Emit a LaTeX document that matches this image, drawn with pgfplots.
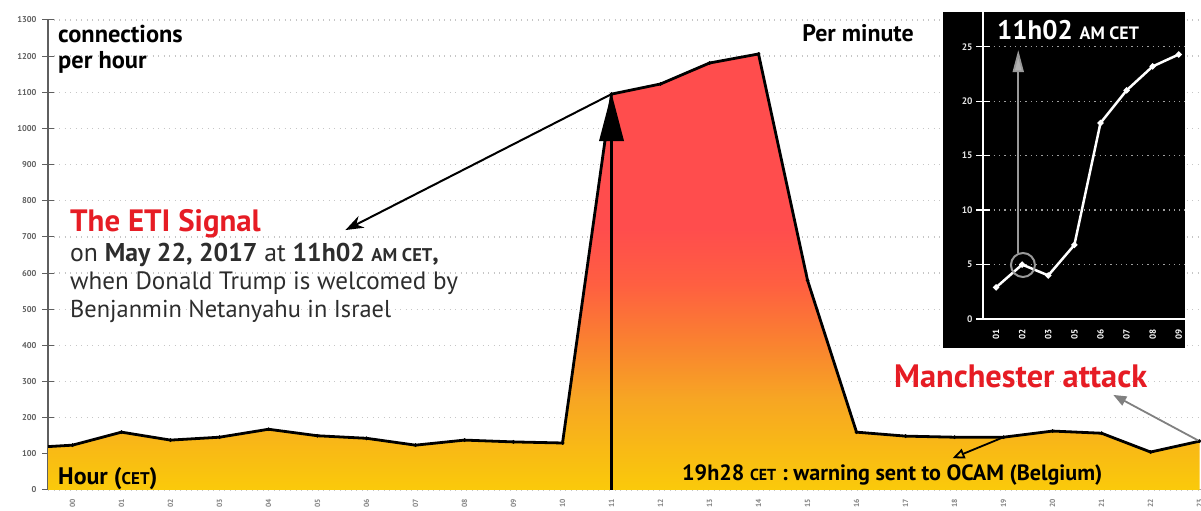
\documentclass[border=0pt]{standalone}
\usepackage{pgfplots}
\pgfplotsset{compat=1.18}
\usepackage{pgfplotstable}
\usepackage{fontspec}
\setmainfont{PT Sans}
\usetikzlibrary{arrows.meta}

\definecolor{cy}{RGB}{250,202,10}
\definecolor{co1}{RGB}{247,166,35}
\definecolor{co2}{RGB}{250,125,50}
\definecolor{co3}{RGB}{255,95,65}
\definecolor{cr}{RGB}{255,77,77}
\definecolor{etired}{RGB}{230,28,36}
\definecolor{txtgray}{RGB}{45,45,45}
\definecolor{tickgray}{RGB}{95,95,95}

\pgfdeclareverticalshading{eti}{100bp}{color(0bp)=(cy); color(25bp)=(cy); color(35.4bp)=(co1); color(42.8bp)=(co2); color(48.6bp)=(co3); color(54.9bp)=(cr); color(100bp)=(cr)}

\pgfplotstableread{
x y
-0.5 120
0 124
1 160
2 138
3 146
4 168
5 150
6 143
7 124
8 138
9 133
10 130
11 1095
12 1123
13 1181
14 1206
15 580
16 160
17 149
18 146
19 146
20 163
21 157
22 105
23 135
}\maindata

\pgfplotstableread{
x y
0 2.9
1 5.0
2 4.0
3 6.8
4 18.0
5 21.0
6 23.2
7 24.3
}\minutedata

\begin{document}
\begin{tikzpicture}[x=1bp,y=1bp]
\useasboundingbox (0,0) rectangle (1201,511);
\begin{axis}[
  at={(48bp,21bp)}, anchor=south west,
  scale only axis, width=1153bp, height=470bp,
  xmin=-0.5, xmax=23.03, ymin=0, ymax=1300,
  axis lines=left,
  x axis line style={-, draw=gray!70, line width=1bp},
  y axis line style={-, draw=tickgray, line width=1.2bp},
  xtick={0,...,23},
  xticklabels={00,01,02,03,04,05,06,07,08,09,10,11,12,13,14,15,16,17,18,19,20,21,22,23},
  xtick style={draw=none},
  xticklabel style={rotate=90, anchor=east, font=\fontsize{7.5}{7.5}\selectfont\bfseries, text=gray},
  ytick={0,100,...,1300},
  yticklabels={0,100,200,300,400,500,600,700,800,900,1000,1100,1200,1300},
  yticklabel style={font=\fontsize{8.5}{8.5}\selectfont\bfseries, text=tickgray, xshift=-2bp},
  tick align=center, major tick length=12bp,
  ytick style={draw=tickgray, line width=1bp},
  ymajorgrids,
  grid style={draw=gray!45, line width=1.3bp, dash pattern=on 1.3bp off 4.2bp},
]
\addplot[draw=none, shading=eti] table[x=x,y=y] {\maindata} \closedcycle;
\addplot[black, line width=2.8bp] table[x=x,y=y] {\maindata};
\addplot[only marks, mark=*, mark size=1.7bp, black, skip coords between index={0}{1}] table[x=x,y=y] {\maindata};
% annotation arrows
\draw[black, line width=3.5bp, -{Triangle[length=48bp,width=24bp]}] (axis cs:11,0) -- (axis cs:11,1098);
\draw[black, line width=2bp, -{Stealth[length=18bp,width=13bp]}] (axis cs:11,1095) -- (axis cs:5.57,719);
\draw[black, line width=1.8bp, -{Triangle[open,length=12bp,width=10bp]}] (axis cs:19,146) -- (axis cs:17.96,88);
\draw[gray, line width=1.8bp, -{Triangle[length=13bp,width=10bp]}] (axis cs:23,135) -- (axis cs:21.24,263);
\end{axis}

% inset
\fill[black] (943,163) rectangle (1185,499);
\begin{axis}[
  at={(983bp,192bp)}, anchor=south west,
  scale only axis, width=202bp, height=307bp,
  xmin=-0.5, xmax=7.24, ymin=0, ymax=28.2,
  axis lines=left,
  axis line style={-, draw=white, line width=1.5bp},
  xtick={0,...,7},
  xticklabels={01,02,03,05,06,07,08,09},
  xtick style={draw=none},
  xticklabel style={rotate=90, anchor=east, font=\fontsize{9}{9}\selectfont\bfseries, text=white},
  ytick={0,5,...,25},
  yticklabels={0,5,10,15,20,25},
  yticklabel style={font=\fontsize{9.5}{9.5}\selectfont\bfseries, text=white!90!black},
  tick align=center, major tick length=14bp,
  ytick style={draw=white, line width=1.3bp},
  ymajorgrids,
  grid style={draw=gray!75, line width=1.3bp, dash pattern=on 1.3bp off 4bp},
]
\addplot[white, line width=2.5bp, mark=*, mark size=1.6bp] table[x=x,y=y] {\minutedata};
\draw[gray!80, line width=2bp] (axis cs:1.03,4.96) circle[radius=12bp];
\draw[gray!80, line width=1.8bp, -{Triangle[length=22bp,width=11bp,fill=gray!60]}] (axis cs:0.85,6.1) -- (axis cs:0.85,24.7);
\end{axis}

% texts
\node[anchor=base west, inner sep=0, font=\fontsize{24.5}{28}\selectfont\bfseries] at (58,468) {connections};
\node[anchor=base west, inner sep=0, font=\fontsize{24.5}{28}\selectfont\bfseries] at (58,442) {per hour};
\node[anchor=base east, inner sep=0, font=\fontsize{24}{28}\selectfont\bfseries] at (914,469) {Per minute};
\node[anchor=base west, inner sep=0, font=\fontsize{27}{30}\selectfont\bfseries, text=white] at (997,471) {11h02 {\fontsize{18}{18}\selectfont AM CET}};
\node[anchor=base west, inner sep=0, font=\fontsize{31}{32}\selectfont\bfseries, text=etired] at (70,279) {The ETI Signal};
\node[anchor=base west, inner sep=0, font=\fontsize{25.8}{28}\selectfont, text=txtgray] at (70,249) {on \textbf{May 22, 2017} at \textbf{11h02 {\fontsize{18.5}{18.5}\selectfont AM CET},}};
\node[anchor=base west, inner sep=0, font=\fontsize{25.2}{28}\selectfont, text=txtgray] at (70,221) {when Donald Trump is welcomed by};
\node[anchor=base west, inner sep=0, font=\fontsize{24.5}{28}\selectfont, text=txtgray] at (70,193) {Benjanmin Netanyahu in Israel};
\node[anchor=base west, inner sep=0, font=\fontsize{32.5}{34}\selectfont\bfseries, text=etired] at (894,123) {Manchester attack};
\node[anchor=base west, inner sep=0, font=\fontsize{24}{26}\selectfont\bfseries, text=black] at (58,26) {Hour ({\fontsize{17}{17}\selectfont CET})};
\node[anchor=base west, inner sep=0, font=\fontsize{22.2}{24}\selectfont\bfseries, text=black] at (682,30) {19h28 {\fontsize{16}{16}\selectfont CET} : warning sent to OCAM (Belgium)};
\end{tikzpicture}
\end{document}
